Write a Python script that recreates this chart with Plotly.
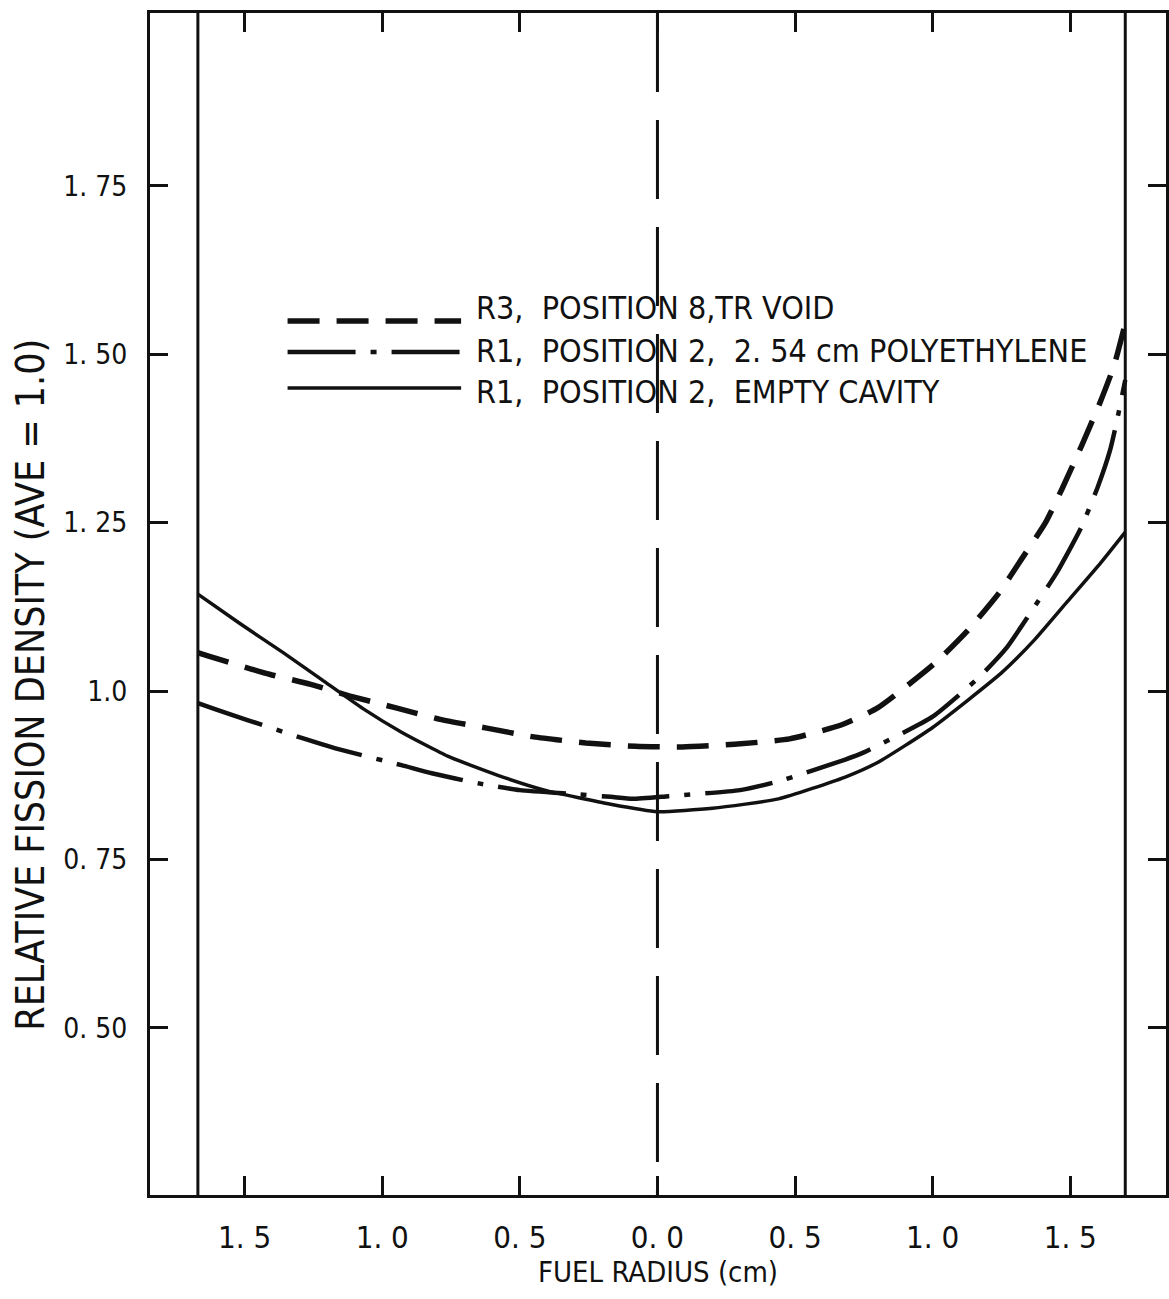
import plotly.graph_objects as go

# ---------------- data ----------------
# Signed fuel radius in cm: negative values = left half of the plot
r3_x = [-1.67, -1.64, -1.41, -1.26, -1.12, -0.95, -0.79, -0.62, -0.45, -0.26, -0.08,
        0.09, 0.28, 0.48, 0.67, 0.80, 1.01, 1.13, 1.24, 1.32, 1.41, 1.47, 1.54, 1.61, 1.66, 1.70]
r3_y = [1.057, 1.053, 1.025, 1.010, 0.993, 0.975, 0.958, 0.945, 0.932, 0.923, 0.918,
        0.917, 0.921, 0.929, 0.950, 0.975, 1.042, 1.091, 1.145, 1.194, 1.250, 1.300, 1.363, 1.430, 1.484, 1.546]

poly_x = [-1.67, -1.60, -1.49, -1.29, -1.17, -0.93, -0.82, -0.65, -0.50, -0.30, -0.17, -0.09,
          0.04, 0.30, 0.44, 0.68, 0.75, 1.00, 1.17, 1.27, 1.355, 1.45, 1.54, 1.60, 1.645, 1.67, 1.70]
poly_y = [0.982, 0.972, 0.957, 0.930, 0.915, 0.890, 0.878, 0.863, 0.853, 0.847, 0.843, 0.840,
          0.844, 0.853, 0.866, 0.898, 0.909, 0.962, 1.021, 1.065, 1.116, 1.175, 1.243, 1.303, 1.358, 1.402, 1.462]

empty_x = [-1.67, -1.52, -1.36, -1.22, -1.07, -0.93, -0.76, -0.58, -0.41, -0.17, 0.00,
           0.20, 0.44, 0.68, 0.80, 1.00, 1.25, 1.37, 1.49, 1.61, 1.70]
empty_y = [1.144, 1.101, 1.057, 1.017, 0.974, 0.939, 0.903, 0.875, 0.853, 0.832, 0.821,
           0.826, 0.840, 0.872, 0.894, 0.946, 1.027, 1.076, 1.133, 1.190, 1.236]

fuel_edges = [-1.67, 1.70]          # solid vertical lines (fuel boundary)
centre_line = 0.0                    # dashed vertical centre line

x_tick_vals = [-1.5, -1.0, -0.5, 0.0, 0.5, 1.0, 1.5]
x_tick_text = ["1. 5", "1. 0", "0. 5", "0. 0", "0. 5", "1. 0", "1. 5"]
y_tick_vals = [0.50, 0.75, 1.00, 1.25, 1.50, 1.75]
y_tick_text = ["0. 50", "0. 75", "1.0", "1. 25", "1. 50", "1. 75"]

series_names = ["R3,  POSITION 8,TR VOID",
                "R1,  POSITION 2,  2. 54 cm POLYETHYLENE",
                "R1,  POSITION 2,  EMPTY CAVITY"]

x_title = "FUEL RADIUS (cm)"
y_title = "RELATIVE FISSION DENSITY (AVE = 1.0)"

# ---------------- styling ----------------
X_RANGE = [-1.844, 1.848]
Y_RANGE = [0.252, 2.0065]
FONT = "Liberation Sans Narrow, DejaVu Sans Condensed, Arial Narrow, sans-serif"
INK = "#111111"

styles = [
    dict(width=5.5, dash="32px,17px"),
    dict(width=4.5, dash="68px,15px,6px,15px"),
    dict(width=3.5, dash="solid"),
]

fig = go.Figure()

for xe in fuel_edges:
    fig.add_trace(go.Scatter(x=[xe, xe], y=Y_RANGE, mode="lines",
                             line=dict(color=INK, width=3), showlegend=False, hoverinfo="skip"))
fig.add_trace(go.Scatter(x=[centre_line, centre_line], y=[Y_RANGE[1], Y_RANGE[0]], mode="lines",
                         line=dict(color=INK, width=3, dash="79px,28px"),
                         showlegend=False, hoverinfo="skip"))

for (xs, ys), name, st in zip([(r3_x, r3_y), (poly_x, poly_y), (empty_x, empty_y)],
                              series_names, styles):
    fig.add_trace(go.Scatter(x=xs, y=ys, mode="lines", name=name,
                             line=dict(color=INK, width=st["width"], dash=st["dash"],
                                       shape="spline", smoothing=0.5),
                             showlegend=False))

# hand-drawn style legend (long line samples, text to the right)
legend_line_y = [0.7394, 0.7132, 0.6827]
legend_text_y = [0.7504, 0.7140, 0.6794]
for name, st, ly, ty in zip(series_names, styles, legend_line_y, legend_text_y):
    fig.add_shape(type="line", xref="paper", yref="paper", x0=0.1354, x1=0.3062, y0=ly, y1=ly,
                  line=dict(color=INK, width=st["width"], dash=st["dash"]))
    fig.add_annotation(xref="paper", yref="paper", x=0.3189, y=ty, text=name,
                       showarrow=False, xanchor="left", yanchor="middle",
                       font=dict(family=FONT, size=32, color=INK))

# y-axis title (placed off-centre as in the original drawing)
fig.add_annotation(xref="paper", yref="paper", x=-0.1178, y=0.432, text=y_title,
                   textangle=-90, showarrow=False, xanchor="center", yanchor="middle",
                   font=dict(family=FONT, size=39, color=INK))

fig.update_layout(
    width=1169, height=1299,
    margin=dict(l=150, r=0, t=13, b=104),
    paper_bgcolor="white", plot_bgcolor="white",
    showlegend=False,
    font=dict(family=FONT, color=INK),
)
fig.update_xaxes(
    range=X_RANGE, showgrid=False, zeroline=False,
    showline=True, linecolor=INK, linewidth=3, mirror="ticks",
    ticks="inside", ticklen=19, tickwidth=3, tickcolor=INK,
    tickvals=x_tick_vals, ticktext=x_tick_text,
    tickfont=dict(family=FONT, size=31, color=INK), ticklabelstandoff=13,
    title=dict(text=x_title, font=dict(family=FONT, size=29, color=INK), standoff=7),
)
fig.update_yaxes(
    range=Y_RANGE, showgrid=False, zeroline=False,
    showline=True, linecolor=INK, linewidth=3, mirror="ticks",
    ticks="inside", ticklen=18, tickwidth=3, tickcolor=INK,
    tickvals=y_tick_vals, ticktext=y_tick_text,
    tickfont=dict(family=FONT, size=28, color=INK), ticklabelstandoff=14,
)

fig.write_html("out.html")
